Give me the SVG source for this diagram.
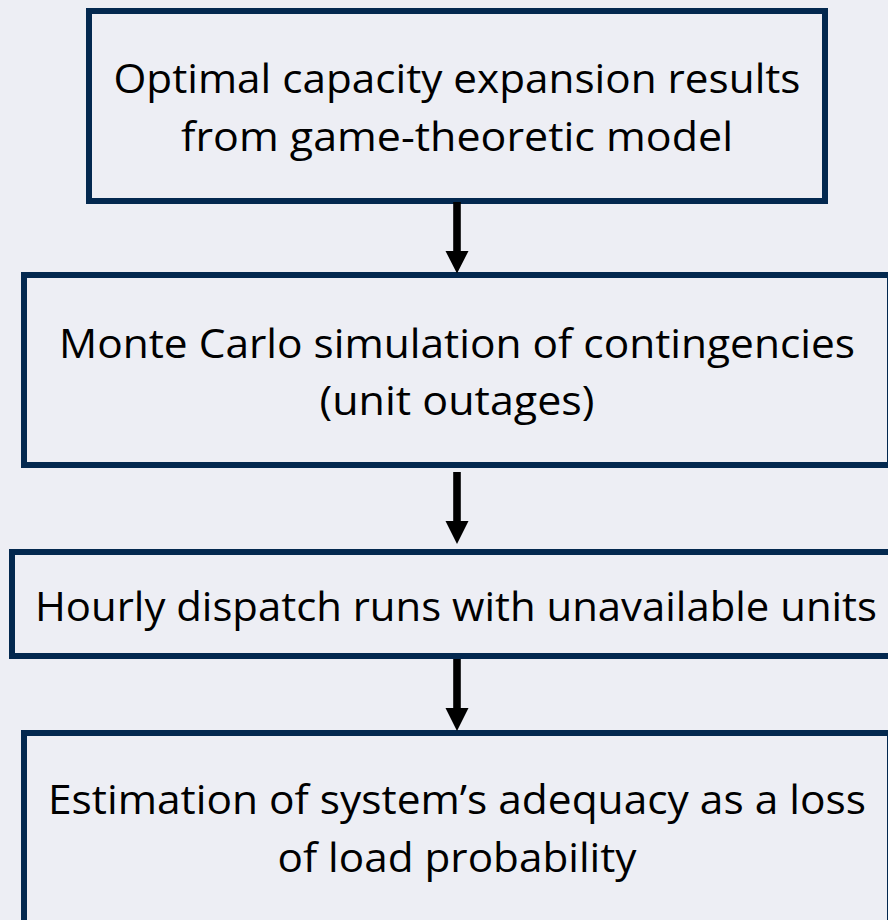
<svg xmlns="http://www.w3.org/2000/svg" width="888" height="920" viewBox="0 0 888 920">
<style>
.box{fill:#edeef4;stroke:#03284f;stroke-width:6}
.t{font-family:"Open Sans","Noto Sans",sans-serif;font-size:41px;fill:#000;text-anchor:middle}
.arr{fill:#000}
</style>
<rect width="888" height="920" fill="#edeef4"/>
<g id="n1">
<rect class="box" x="89" y="11" width="736" height="190"/>
<text class="t" x="457" y="93" textLength="687" lengthAdjust="spacingAndGlyphs">Optimal capacity expansion results</text>
<text class="t" x="457" y="151" textLength="552" lengthAdjust="spacingAndGlyphs">from game-theoretic model</text>
</g>
<g id="n2">
<rect class="box" x="24" y="275" width="866" height="190"/>
<text class="t" x="457" y="358" textLength="796" lengthAdjust="spacingAndGlyphs">Monte Carlo simulation of contingencies</text>
<text class="t" x="457" y="415" textLength="275" lengthAdjust="spacingAndGlyphs">(unit outages)</text>
</g>
<g id="n3">
<rect class="box" x="12" y="552" width="890" height="104"/>
<text class="t" x="456" y="621" textLength="842" lengthAdjust="spacingAndGlyphs">Hourly dispatch runs with unavailable units</text>
</g>
<g id="n4">
<rect class="box" x="24" y="733" width="866" height="200"/>
<text class="t" x="457" y="814" textLength="818" lengthAdjust="spacingAndGlyphs">Estimation of system’s adequacy as a loss</text>
<text class="t" x="457" y="872" textLength="359" lengthAdjust="spacingAndGlyphs">of load probability</text>
</g>
<g id="connectors">
<path class="arr" d="M453.2 202 H460.8 V251 H468.5 L457 273.5 L445.5 251 H453.2 Z"/>
<path class="arr" d="M453.2 472 H460.8 V521 H468.5 L457 544 L445.5 521 H453.2 Z"/>
<path class="arr" d="M453.2 659 H460.8 V708 H468.5 L457 731 L445.5 708 H453.2 Z"/>
</g>
</svg>
